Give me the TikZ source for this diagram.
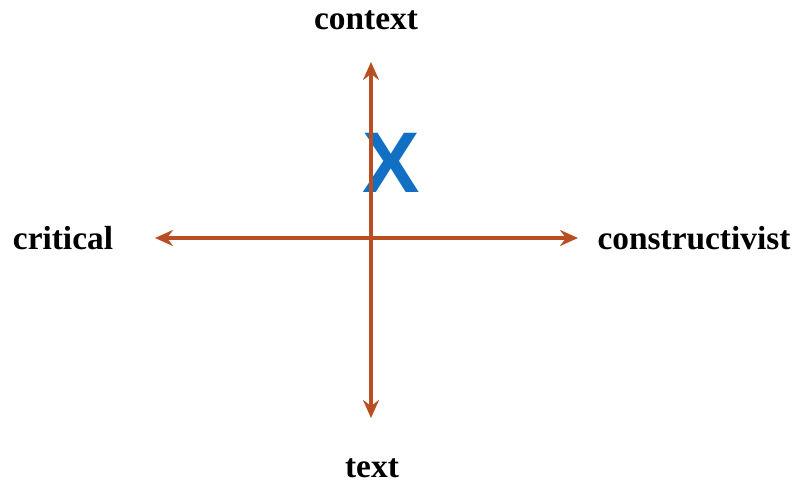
\documentclass[tikz,border=0pt]{standalone}
\usepackage{fontspec}
\setmainfont{Liberation Serif}
\newfontfamily\xfont{Liberation Sans}
\definecolor{axisbrown}{RGB}{184, 78, 34}
\definecolor{markblue}{RGB}{18, 112, 196}
\usetikzlibrary{arrows.meta, positioning}

\begin{document}
\begin{tikzpicture}[every node/.style={font=\fontsize{19}{22}\selectfont\bfseries}]
\useasboundingbox (0,0) rectangle (15.94,9.66);
% Axis ends
\coordinate (O) at (7.42,4.9);
\coordinate (T) at (7.42,8.42);
\coordinate (B) at (7.42,1.3);
\coordinate (L) at (3.1,4.9);
\coordinate (R) at (11.56,4.9);
% Position marker
\node[font=\xfont\fontsize{49}{50}\selectfont\bfseries, text=markblue, inner sep=0pt] (X) at (7.82,6.4) {X};
% Axes
\draw[{Stealth[length=0.36cm, width=0.32cm, inset=0.12cm]}-{Stealth[length=0.36cm, width=0.32cm, inset=0.12cm]}, line width=1.8pt, axisbrown] (B) -- (T);
\draw[{Stealth[length=0.36cm, width=0.32cm, inset=0.12cm]}-{Stealth[length=0.36cm, width=0.32cm, inset=0.12cm]}, line width=1.8pt, axisbrown] (L) -- (R);
% Labels
\node (context) at (7.32,9.26) {context};
\node (text) at (7.44,0.3) {text};
\node (critical) at (1.26,4.9) {critical};
\node (constructivist) at (13.88,4.9) {constructivist};
\end{tikzpicture}
\end{document}
